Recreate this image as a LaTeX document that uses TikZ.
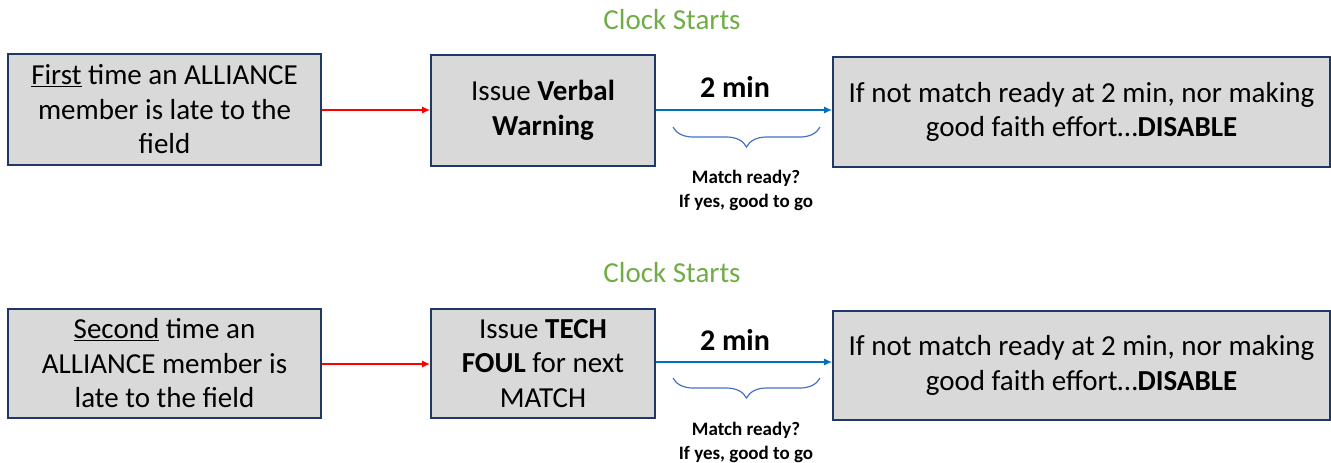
\documentclass[tikz,border=0pt]{standalone}
\usepackage{fontspec}
\setmainfont{Carlito}
\usetikzlibrary{arrows.meta,decorations.pathreplacing}
\definecolor{boxfill}{HTML}{D9D9D9}
\definecolor{boxdraw}{HTML}{1F3864}
\definecolor{clockgreen}{HTML}{70AD47}
\definecolor{arrowblue}{HTML}{0070C0}
\definecolor{bracecol}{HTML}{4472C4}
\tikzset{
  stepbox/.style={draw=boxdraw, line width=1.6pt, fill=boxfill, inner sep=0pt, align=center,
    font=\fontsize{29}{34.5}\selectfont, text=black},
  redarrow/.style={draw=red, line width=1.4pt, -{Latex[length=8pt,width=7pt]}},
  bluearrow/.style={draw=arrowblue, line width=1.4pt, -{Latex[length=8pt,width=7pt]}},
  clocklbl/.style={text=clockgreen, font=\fontsize{29}{34}\selectfont},
  minlbl/.style={font=\fontsize{30}{34}\selectfont\bfseries},
  bracestyle/.style={draw=bracecol, line width=1.2pt, decorate, decoration={brace, mirror, amplitude=20pt}},
  readylbl/.style={font=\fontsize{19}{24}\selectfont\bfseries, align=center}
}
\begin{document}
\begin{tikzpicture}[x=1pt,y=-1pt]
\useasboundingbox (0,0) rectangle (1331,463);
% Row 1
\node[clocklbl] (c1) at (672,20) {Clock Starts};
\node[stepbox, minimum width=313pt, minimum height=111pt] (a1) at (164.5,109.5)
  {\underline{First} time an ALLIANCE\\ member is late to the\\ field};
\node[stepbox, minimum width=224pt, minimum height=111pt] (b1) at (543,110.5)
  {Issue \textbf{Verbal}\\ \textbf{Warning}};
\node[stepbox, minimum width=497pt, minimum height=110pt] (d1) at (1081.5,112)
  {If not match ready at 2 min, nor making\\ good faith effort\ldots\textbf{DISABLE}};
\draw[redarrow] (a1.east |- 0,110) -- (b1.west |- 0,110);
\draw[bluearrow] (b1.east |- 0,110) -- (d1.west |- 0,110);
\node[minlbl] (m1) at (735,87) {2 min};
\coordinate (bl1) at (673,127);
\coordinate (br1) at (820,127);
\draw[bracestyle] (bl1) -- (br1);
\node[readylbl] (r1) at (746,190) {Match ready?\\ If yes, good to go};
% Row 2
\node[clocklbl] (c2) at (672,273) {Clock Starts};
\node[stepbox, minimum width=313pt, minimum height=109pt] (a2) at (164.5,363.5)
  {\underline{Second} time an\\ ALLIANCE member is\\ late to the field};
\node[stepbox, minimum width=224pt, minimum height=109pt] (b2) at (543,363.5)
  {Issue \textbf{TECH}\\ \textbf{FOUL} for next\\ MATCH};
\node[stepbox, minimum width=497pt, minimum height=109pt] (d2) at (1081.5,365.5)
  {If not match ready at 2 min, nor making\\ good faith effort\ldots\textbf{DISABLE}};
\draw[redarrow] (a2.east |- 0,364) -- (b2.west |- 0,364);
\draw[bluearrow] (b2.east |- 0,362) -- (d2.west |- 0,362);
\node[minlbl] (m2) at (735,340) {2 min};
\coordinate (bl2) at (673,378);
\coordinate (br2) at (820,378);
\draw[bracestyle] (bl2) -- (br2);
\node[readylbl] (r2) at (746,442) {Match ready?\\ If yes, good to go};
\end{tikzpicture}
\end{document}
